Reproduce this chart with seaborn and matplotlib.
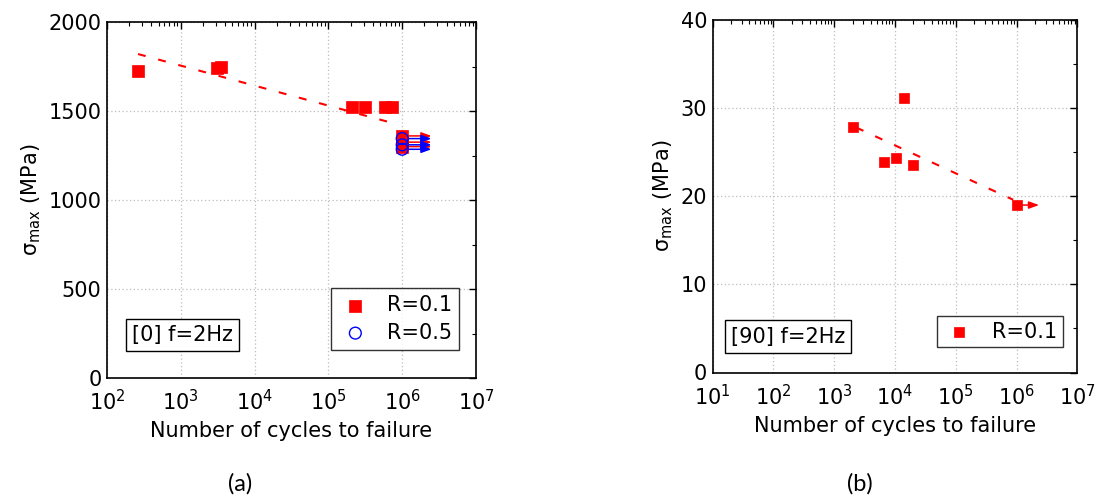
import numpy as np
import pandas as pd
import matplotlib
matplotlib.use("Agg")
import matplotlib.pyplot as plt
from matplotlib.ticker import LogLocator, MultipleLocator, NullFormatter
import seaborn as sns

# ---- [0] laminate, f = 2 Hz ----
a_fail_N = [263, 3050, 3500, 2.1e5, 3.1e5, 5.9e5, 7.2e5]
a_fail_S = [1725, 1740, 1750, 1525, 1525, 1525, 1525]
a_run_N_r01 = [1e6, 1e6, 1e6]
a_run_S_r01 = [1360, 1325, 1300]
a_run_N_r05 = [1e6, 1e6, 1e6]
a_run_S_r05 = [1345, 1310, 1285]
a_fit_N = [263, 7.8e5]
a_fit_S = [1820, 1430]
a_arrow_end = 2.5e6

# ---- [90] laminate, f = 2 Hz ----
b_fail_N = [2000, 6500, 10500, 14000, 20000]
b_fail_S = [27.9, 23.9, 24.3, 31.2, 23.6]
b_run_N = [1e6]
b_run_S = [19.0]
b_fit_N = [2300, 8.8e5]
b_fit_S = [27.8, 19.6]
b_arrow_end = 2.35e6

sns.set_theme(style="white")
plt.rcParams["font.family"] = ["DejaVu Sans"]
plt.rcParams["mathtext.fontset"] = "dejavusans"
plt.rcParams["text.color"] = "black"
plt.rcParams["axes.labelcolor"] = "black"

FS = 15
RED = "#ff0000"
BLUE = "#0000ff"

fig = plt.figure(figsize=(10.99, 5.0), dpi=100)
ax1 = fig.add_axes([0.0974, 0.244, 0.3357, 0.712])
ax2 = fig.add_axes([0.6485, 0.255, 0.3318, 0.705])


def style_axes(ax, xlim, ylim, ymajor, yminor):
    ax.set_xscale("log")
    ax.set_xlim(*xlim)
    ax.set_ylim(*ylim)
    ax.xaxis.set_major_locator(LogLocator(base=10, numticks=20))
    ax.xaxis.set_minor_locator(LogLocator(base=10, subs=np.arange(2, 10), numticks=20))
    ax.xaxis.set_minor_formatter(NullFormatter())
    ax.yaxis.set_major_locator(MultipleLocator(ymajor))
    ax.yaxis.set_minor_locator(MultipleLocator(yminor))
    ax.tick_params(which="both", direction="in", top=True, right=True,
                   labelsize=FS, colors="black", pad=4)
    ax.tick_params(axis="x", which="major", pad=8)
    ax.tick_params(which="major", length=5, width=1)
    ax.tick_params(which="minor", length=3, width=0.8)
    ax.grid(True, which="major", color="#bdbdbd", linestyle=(0, (1, 2)), linewidth=0.9)
    for s in ax.spines.values():
        s.set_color("black")
        s.set_linewidth(1.2)


def label_axes(ax):
    ax.set_xlabel("Number of cycles to failure", fontsize=FS, labelpad=5, color="black")
    ax.set_ylabel(r"$\mathregular{\sigma_{max}}$ (MPa)", fontsize=FS, labelpad=4,
                  color="black")


def runout_arrows(ax, xs, ys, x_end, color):
    for x, y in zip(xs, ys):
        ax.annotate("", xy=(x_end, y), xytext=(x, y),
                    arrowprops=dict(arrowstyle="-|>,head_length=0.5,head_width=0.18",
                                    color=color, lw=1.1, shrinkA=0, shrinkB=0),
                    zorder=2)


# ---- panel (a) ----
style_axes(ax1, (1e2, 1e7), (0, 2000), 500, 250)
fit_a = pd.DataFrame({"N": a_fit_N, "S": a_fit_S})
sns.lineplot(data=fit_a, x="N", y="S", ax=ax1, color=RED, lw=1.5,
             dashes=False, linestyle=(0, (3.8, 6.2)), zorder=3)
runout_arrows(ax1, a_run_N_r01, a_run_S_r01, a_arrow_end, RED)
runout_arrows(ax1, a_run_N_r05, a_run_S_r05, a_arrow_end, BLUE)
sq_a = pd.DataFrame({"N": a_fail_N + a_run_N_r01, "S": a_fail_S + a_run_S_r01})
sns.scatterplot(data=sq_a, x="N", y="S", ax=ax1, marker="s", s=66, color=RED,
                edgecolor=RED, linewidth=0.5, zorder=4, label="R=0.1")
ci_a = pd.DataFrame({"N": a_run_N_r05, "S": a_run_S_r05})
sns.scatterplot(data=ci_a, x="N", y="S", ax=ax1, marker="o", s=72, facecolor="none",
                edgecolor=BLUE, linewidth=1.0, zorder=5, label="R=0.5")
label_axes(ax1)
leg1 = ax1.legend(loc="lower right", bbox_to_anchor=(0.954, 0.079), borderaxespad=0,
                  fontsize=FS, frameon=True, fancybox=False, edgecolor="black",
                  handletextpad=0.7, borderpad=0.35, labelspacing=0.35, handlelength=1.6)
leg1.get_frame().set_linewidth(1.0)
ax1.text(0.068, 0.121, "[0] f=2Hz", transform=ax1.transAxes, fontsize=FS,
         ha="left", va="center",
         bbox=dict(boxstyle="square,pad=0.3", fc="white", ec="black", lw=1.0))

# ---- panel (b) ----
style_axes(ax2, (1e1, 1e7), (0, 40), 10, 5)
fit_b = pd.DataFrame({"N": b_fit_N, "S": b_fit_S})
sns.lineplot(data=fit_b, x="N", y="S", ax=ax2, color=RED, lw=1.5,
             dashes=False, linestyle=(0, (3.8, 6.2)), zorder=3)
runout_arrows(ax2, b_run_N, b_run_S, b_arrow_end, RED)
sq_b = pd.DataFrame({"N": b_fail_N + b_run_N, "S": b_fail_S + b_run_S})
sns.scatterplot(data=sq_b, x="N", y="S", ax=ax2, marker="s", s=62, color=RED,
                edgecolor=RED, linewidth=0.5, zorder=4, label="R=0.1")
label_axes(ax2)
leg2 = ax2.legend(loc="lower right", bbox_to_anchor=(0.96, 0.073), borderaxespad=0,
                  fontsize=FS, frameon=True, fancybox=False, edgecolor="black",
                  handletextpad=0.8, borderpad=0.25, handlelength=1.6)
leg2.get_frame().set_linewidth(1.0)
ax2.text(0.05, 0.102, "[90] f=2Hz", transform=ax2.transAxes, fontsize=FS,
         ha="left", va="center",
         bbox=dict(boxstyle="square,pad=0.3", fc="white", ec="black", lw=1.0))

# panel captions
fig.text(0.2185, 0.018, "(a)", fontsize=17, family=["Lato", "DejaVu Sans"], ha="center")
fig.text(0.7825, 0.018, "(b)", fontsize=17, family=["Lato", "DejaVu Sans"], ha="center")

fig.savefig("out.png", dpi=100)
